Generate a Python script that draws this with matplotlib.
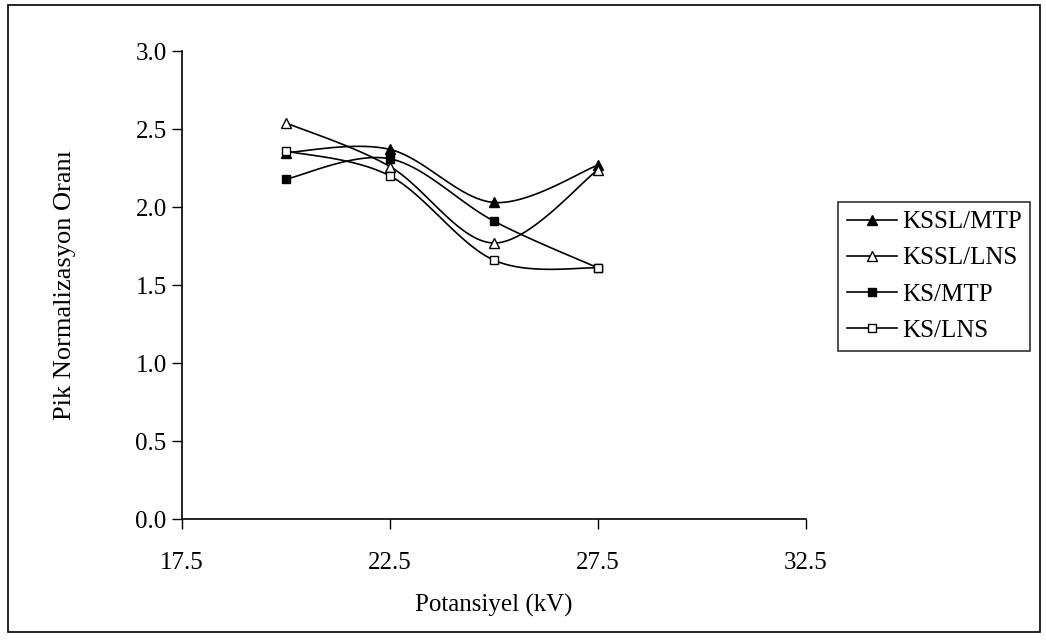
import numpy as np
import matplotlib
matplotlib.use("Agg")
import matplotlib.pyplot as plt
from matplotlib.patches import Rectangle

plt.rcParams['font.family'] = ['Liberation Serif', 'DejaVu Serif']

potansiyel = [20.0, 22.5, 25.0, 27.5]
kssl_mtp = [2.35, 2.37, 2.03, 2.27]
kssl_lns = [2.54, 2.26, 1.77, 2.24]
ks_mtp = [2.18, 2.31, 1.91, 1.61]
ks_lns = [2.36, 2.20, 1.66, 1.61]
series_names = ['KSSL/MTP', 'KSSL/LNS', 'KS/MTP', 'KS/LNS']
xticks = [17.5, 22.5, 27.5, 32.5]
yticks = [0.0, 0.5, 1.0, 1.5, 2.0, 2.5, 3.0]


def smooth(x, y, n=40):
    # uniform Catmull-Rom, like Excel's smoothed lines
    p = np.column_stack([x, y]).astype(float)
    p = np.vstack([p[0], p, p[-1]])
    out = []
    for i in range(1, len(p) - 2):
        p0, p1, p2, p3 = p[i - 1], p[i], p[i + 1], p[i + 2]
        t = np.linspace(0, 1, n)[:, None]
        seg = 0.5 * ((2 * p1) + (-p0 + p2) * t + (2 * p0 - 5 * p1 + 4 * p2 - p3) * t ** 2
                     + (-p0 + 3 * p1 - 3 * p2 + p3) * t ** 3)
        out.append(seg)
    s = np.vstack(out)
    return s[:, 0], s[:, 1]


fig = plt.figure(figsize=(10.46, 6.4), dpi=100)
ax = fig.add_axes([0.174, 0.189, 0.5966, 0.731])

styles = [
    dict(marker='^', mfc='black', mec='black'),
    dict(marker='^', mfc='white', mec='black'),
    dict(marker='s', mfc='black', mec='black'),
    dict(marker='s', mfc='white', mec='black'),
]
data = [kssl_mtp, kssl_lns, ks_mtp, ks_lns]

for name, vals, st in zip(series_names, data, styles):
    sx, sy = smooth(potansiyel, vals)
    ax.plot(sx, sy, color='black', lw=1.2)
    ms = 7 if st['marker'] == '^' else 6
    ax.plot(potansiyel, vals, linestyle='none', ms=ms, mew=1.0, **st)
    ax.plot([], [], color='black', lw=1.2, ms=ms, mew=1.0, label=name, **st)

ax.set_xlim(17.5, 32.5)
ax.set_ylim(0, 3.0)
ax.set_xticks(xticks)
ax.set_yticks(yticks)
ax.set_xticklabels([f'{v:.1f}' for v in xticks])
ax.set_yticklabels([f'{v:.1f}' for v in yticks])
ax.tick_params(direction='out', length=7, width=1.0, labelsize=18, colors='black')
ax.tick_params(axis='x', pad=17)
ax.tick_params(axis='y', pad=4)
for side in ['top', 'right']:
    ax.spines[side].set_visible(False)
for side in ['left', 'bottom']:
    ax.spines[side].set_linewidth(1.2)

ax.set_xlabel('Potansiyel (kV)', fontsize=18, labelpad=14)
ax.set_ylabel('Pik Normalizasyon Oranı', fontsize=19, labelpad=43)

leg = ax.legend(loc='upper left', bbox_to_anchor=(838 / 1046, 1 - 202 / 640),
                bbox_transform=fig.transFigure, fontsize=18, frameon=True,
                fancybox=False, edgecolor='black', handlelength=2.0,
                handletextpad=0.2, labelspacing=0.55, borderpad=0.35,
                borderaxespad=0)
leg.get_frame().set_linewidth(1.2)

fig.patches.append(Rectangle((8 / 1046, 8 / 640), 1032 / 1046, 627 / 640,
                             transform=fig.transFigure, fill=False,
                             edgecolor='black', lw=1.2))

fig.savefig('out.png', dpi=100)
